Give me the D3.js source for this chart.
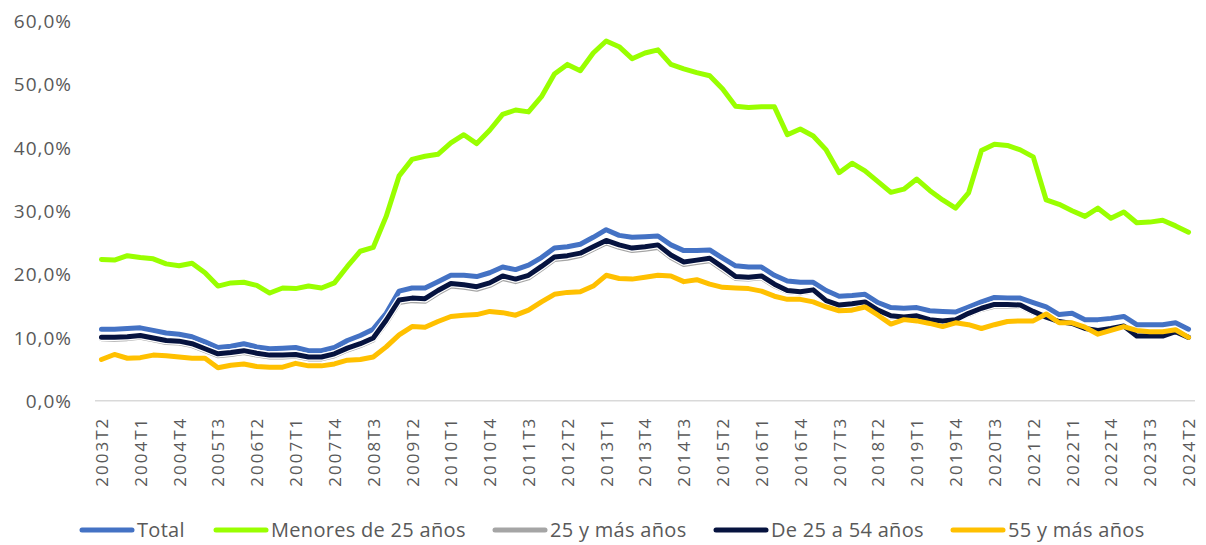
<!DOCTYPE html>
<html>
<head>
<meta charset="utf-8">
<script src="https://cdn.jsdelivr.net/npm/d3@7"></script>
<style>
  html, body { margin: 0; padding: 0; background: #ffffff; }
  svg { display: block; }
  text { font-family: "Open Sans", "DejaVu Sans", sans-serif; fill: #595959; }
</style>
</head>
<body>
<svg id="chart" width="1206" height="545"></svg>
<script>
const quarters = [
  "2003T2","2003T3","2003T4",
  "2004T1","2004T2","2004T3","2004T4",
  "2005T1","2005T2","2005T3","2005T4",
  "2006T1","2006T2","2006T3","2006T4",
  "2007T1","2007T2","2007T3","2007T4",
  "2008T1","2008T2","2008T3","2008T4",
  "2009T1","2009T2","2009T3","2009T4",
  "2010T1","2010T2","2010T3","2010T4",
  "2011T1","2011T2","2011T3","2011T4",
  "2012T1","2012T2","2012T3","2012T4",
  "2013T1","2013T2","2013T3","2013T4",
  "2014T1","2014T2","2014T3","2014T4",
  "2015T1","2015T2","2015T3","2015T4",
  "2016T1","2016T2","2016T3","2016T4",
  "2017T1","2017T2","2017T3","2017T4",
  "2018T1","2018T2","2018T3","2018T4",
  "2019T1","2019T2","2019T3","2019T4",
  "2020T1","2020T2","2020T3","2020T4",
  "2021T1","2021T2","2021T3","2021T4",
  "2022T1","2022T2","2022T3","2022T4",
  "2023T1","2023T2","2023T3","2023T4",
  "2024T1","2024T2"
];

const tickLabels = [
  "2003T2","2004T1","2004T4","2005T3","2006T2","2007T1","2007T4","2008T3",
  "2009T2","2010T1","2010T4","2011T3","2012T2","2013T1","2013T4","2014T3",
  "2015T2","2016T1","2016T4","2017T3","2018T2","2019T1","2019T4","2020T3",
  "2021T2","2022T1","2022T4","2023T3","2024T2"
];

const yTicks = [0, 10, 20, 30, 40, 50, 60];

const total = [
  11.3,11.3,11.4,11.5,11.1,10.7,10.5,10.1,9.3,8.4,
  8.6,9.0,8.5,8.2,8.3,8.4,7.9,7.9,8.4,9.5,
  10.3,11.3,13.8,17.3,17.8,17.8,18.8,19.8,19.8,19.6,
  20.2,21.1,20.7,21.4,22.6,24.1,24.3,24.7,25.8,27.0,
  26.1,25.8,25.9,26.0,24.6,23.7,23.7,23.8,22.5,21.3,
  21.1,21.1,19.8,18.9,18.7,18.7,17.4,16.5,16.6,16.8,
  15.5,14.7,14.6,14.7,14.2,14.1,14.0,14.8,15.6,16.3,
  16.2,16.2,15.5,14.8,13.6,13.8,12.8,12.8,13.0,13.3,
  12.0,12.0,12.0,12.3,11.3
];

const menores25 = [
  22.3,22.2,22.9,22.6,22.4,21.6,21.3,21.7,20.2,18.1,
  18.6,18.7,18.2,17.0,17.8,17.7,18.1,17.8,18.6,21.2,
  23.6,24.2,29.1,35.5,38.1,38.6,38.9,40.7,42.0,40.6,
  42.7,45.2,45.9,45.6,48.0,51.6,53.1,52.1,54.9,56.8,
  55.9,54.0,54.9,55.4,53.1,52.4,51.8,51.3,49.2,46.5,
  46.3,46.4,46.4,42.0,42.9,41.8,39.6,36.0,37.5,36.3,
  34.6,32.9,33.4,35.0,33.2,31.7,30.4,32.8,39.5,40.5,
  40.3,39.6,38.5,31.7,31.0,30.0,29.1,30.4,28.8,29.8,
  28.1,28.2,28.5,27.6,26.6
];

const mas25 = [
  9.8,9.7,9.8,10.0,9.6,9.2,9.1,8.7,7.9,7.1,
  7.3,7.6,7.2,6.9,6.9,7.0,6.6,6.6,7.1,8.0,
  8.7,9.6,12.3,15.5,15.8,15.7,17.0,18.1,17.9,17.6,
  18.2,19.3,18.8,19.4,20.8,22.3,22.5,22.9,23.9,24.9,
  24.2,23.7,23.9,24.2,22.6,21.5,21.8,22.1,20.7,19.3,
  19.2,19.4,18.1,17.2,17.0,17.3,15.6,14.9,15.1,15.4,
  14.1,13.2,13.1,13.3,12.7,12.5,12.7,13.6,14.4,14.9,
  14.9,14.9,13.9,13.2,12.4,12.2,11.4,11.0,11.3,11.8,
  10.3,10.3,10.3,10.9,10.0
];

const de25a54 = [
  10.0,10.0,10.1,10.3,9.9,9.5,9.4,9.0,8.2,7.4,
  7.6,7.9,7.5,7.2,7.2,7.3,6.9,6.9,7.4,8.3,
  9.0,9.9,12.7,15.9,16.2,16.1,17.4,18.5,18.3,18.0,
  18.6,19.7,19.2,19.8,21.2,22.7,22.9,23.3,24.3,25.3,
  24.6,24.1,24.3,24.6,23.0,21.9,22.2,22.5,21.1,19.6,
  19.5,19.7,18.4,17.4,17.2,17.5,15.8,15.1,15.3,15.6,
  14.3,13.4,13.2,13.4,12.8,12.6,12.8,13.8,14.6,15.2,
  15.2,15.1,14.1,13.2,12.5,12.2,11.4,11.1,11.4,11.8,
  10.2,10.2,10.2,10.9,10.0
];

const mas55 = [
  6.5,7.3,6.7,6.8,7.2,7.1,6.9,6.7,6.7,5.2,
  5.6,5.8,5.4,5.3,5.3,5.9,5.5,5.5,5.8,6.4,
  6.5,6.9,8.5,10.4,11.7,11.6,12.5,13.3,13.5,13.6,
  14.1,13.9,13.5,14.3,15.6,16.8,17.1,17.2,18.1,19.8,
  19.3,19.2,19.5,19.8,19.7,18.8,19.1,18.4,17.9,17.8,
  17.7,17.3,16.5,16.0,16.0,15.6,14.8,14.2,14.3,14.8,
  13.5,12.1,12.8,12.6,12.2,11.7,12.3,12.0,11.4,12.0,
  12.5,12.6,12.6,13.7,12.3,12.3,11.6,10.5,11.1,11.7,
  11.1,10.9,10.9,11.2,10.0
];

const seriesNames = ["Total", "Menores de 25 años", "25 y más años", "De 25 a 54 años", "55 y más años"];
const seriesColors = ["#4472C4", "#99FF00", "#A5A5A5", "#06133F", "#FFC000"];
const seriesValues = [total, menores25, mas25, de25a54, mas55];

const svg = d3.select("#chart");
const plot = { left: 95, right: 1195, top: 20.7, bottom: 400.7 };

const x = d3.scalePoint().domain(quarters).range([plot.left, plot.right]).padding(0.5);
const y = d3.scaleLinear().domain([0, 60]).range([plot.bottom, plot.top]);

// baseline (0%) line
svg.append("line")
  .attr("x1", plot.left).attr("x2", plot.right)
  .attr("y1", y(0)).attr("y2", y(0))
  .attr("stroke", "#D9D9D9").attr("stroke-width", 1.5);

// y axis labels
const yAxis = d3.axisLeft(y).tickValues(yTicks).tickSize(0).tickPadding(0)
  .tickFormat(d => d3.format(".1f")(d).replace(".", ",") + "%");
const yg = svg.append("g").attr("transform", `translate(72,0)`).call(yAxis);
yg.select(".domain").remove();
yg.selectAll("text").style("font-size", "19px").style("letter-spacing", "1px")
  .attr("fill", "#595959")
  .style("font-family", "'Open Sans', sans-serif").attr("dy", "0.35em");

// x axis labels
const xAxis = d3.axisBottom(x).tickValues(tickLabels).tickSize(0).tickPadding(0);
const xg = svg.append("g").attr("transform", `translate(0,${y(0)})`).call(xAxis);
xg.select(".domain").remove();
xg.selectAll("text")
  .style("font-size", "17px").style("letter-spacing", "2px")
  .attr("fill", "#595959")
  .style("font-family", "'Open Sans', sans-serif")
  .attr("text-anchor", "end")
  .attr("transform", "rotate(-90)")
  .attr("x", -16).attr("y", 0).attr("dy", "0.35em");

// lines
const line = d3.line().x((d, i) => x(quarters[i])).y(d => y(d)).curve(d3.curveLinear);
const lg = svg.append("g");
seriesValues.forEach((vals, k) => {
  if (k === 3) {
    lg.append("path").datum(vals).attr("d", line)
      .attr("fill", "none").attr("stroke", "#ffffff").attr("stroke-width", 7.5)
      .attr("stroke-linejoin", "round").attr("stroke-linecap", "round");
  }
  lg.append("path").datum(vals).attr("d", line)
    .attr("fill", "none").attr("stroke", seriesColors[k]).attr("stroke-width", 5)
    .attr("stroke-linejoin", "round").attr("stroke-linecap", "round");
});

// legend
const legendX = [80, 214, 493, 714, 951];
const legendY = 530;
const leg = svg.append("g");
seriesNames.forEach((name, k) => {
  leg.append("line")
    .attr("x1", legendX[k] + 2).attr("x2", legendX[k] + 52)
    .attr("y1", legendY).attr("y2", legendY)
    .attr("stroke", seriesColors[k]).attr("stroke-width", 5).attr("stroke-linecap", "round");
  leg.append("text")
    .attr("x", legendX[k] + 57).attr("y", legendY).attr("dy", "0.35em")
    .style("font-size", "20px").style("letter-spacing", "0.3px")
    .text(name);
});
</script>
</body>
</html>
